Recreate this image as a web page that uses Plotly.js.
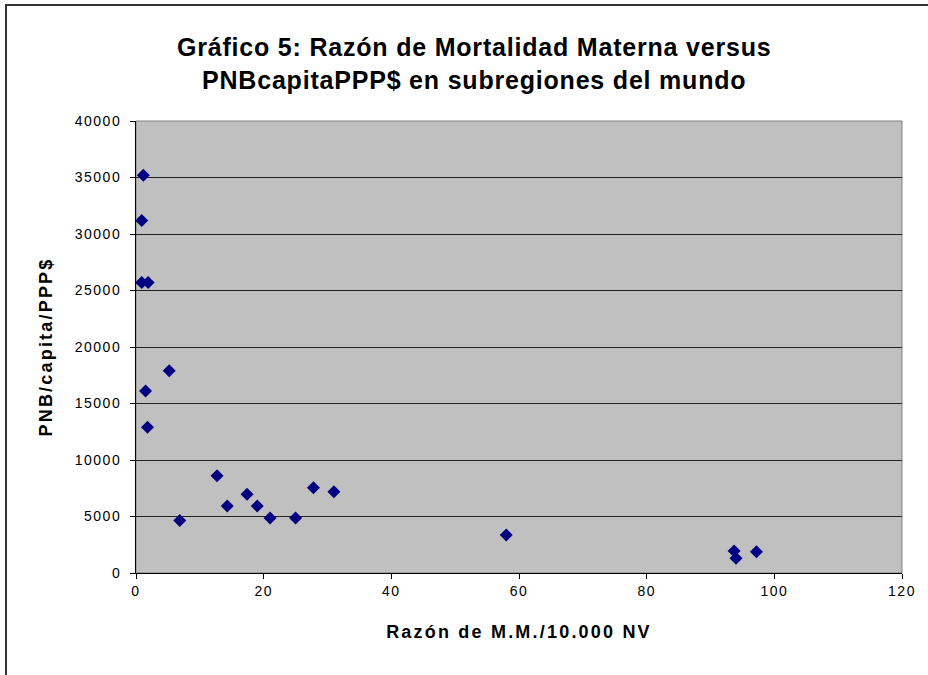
<!DOCTYPE html>
<html>
<head>
<meta charset="utf-8">
<script src="https://cdn.plot.ly/plotly-3.0.1.min.js"></script>
<style>
  html, body { margin: 0; padding: 0; background: #ffffff; overflow: hidden; }
  #frame { position: absolute; left: 5px; top: 4px; width: 1000px; height: 1000px;
           border-left: 2px solid #333333; border-top: 2px solid #333333; pointer-events: none; z-index: 5; }
  #chart { position: absolute; left: 0; top: 0; width: 928px; height: 675px; }
  #chart .gtitle { letter-spacing: 0.8px; }
  #chart .xtitle, #chart .ytitle { letter-spacing: 2.2px; }
  #chart .xtick text, #chart .ytick text { letter-spacing: 1.5px; }
</style>
</head>
<body>
<div id="chart"></div>
<div id="frame"></div>
<script>
// Razón de M.M. por 10.000 nacidos vivos
var razonMM = [1.15, 0.9, 0.9, 1.9, 5.2, 1.5, 1.8,
               6.85, 12.7, 14.3, 17.4, 19.0, 21.0, 25.0, 27.8, 31.0,
               58.0, 93.7, 94.0, 97.2];
// PNB per cápita PPP$
var pnbCapita = [35200, 31200, 25700, 25700, 17900, 16100, 12900,
                 4640, 8600, 5930, 6960, 5930, 4860, 4860, 7540, 7180,
                 3370, 1950, 1300, 1890];

var xTickVals = [0, 20, 40, 60, 80, 100, 120];
var yTickVals = [0, 5000, 10000, 15000, 20000, 25000, 30000, 35000, 40000];

var titleText = 'Gráfico 5: Razón de Mortalidad Materna versus<br>PNBcapitaPPP$ en subregiones del mundo';

var trace = {
  x: razonMM,
  y: pnbCapita,
  type: 'scatter',
  mode: 'markers',
  marker: { symbol: 'diamond', size: 10, color: '#000080', line: { width: 0 } },
  hoverinfo: 'x+y'
};

var layout = {
  width: 928,
  height: 675,
  margin: { l: 136, r: 26, t: 121, b: 102, pad: 0 },
  paper_bgcolor: '#ffffff',
  plot_bgcolor: '#c0c0c0',
  font: { family: 'Liberation Sans, Arial, sans-serif', color: '#000000', size: 14 },
  showlegend: false,
  title: {
    text: titleText,
    font: { family: 'Liberation Sans, Arial, sans-serif', size: 25, color: '#000000', weight: 'bold' },
    xref: 'container', x: 0.511, xanchor: 'center',
    yref: 'container', y: 0.917, yanchor: 'middle'
  },
  xaxis: {
    range: [0, 120],
    tickvals: xTickVals,
    ticktext: xTickVals.map(String),
    showgrid: false,
    zeroline: false,
    showline: true, linecolor: '#000000', linewidth: 1,
    ticks: 'outside', ticklen: 5, tickcolor: '#000000', tickwidth: 1,
    tickfont: { size: 14 },
    title: { text: 'Razón de M.M./10.000 NV', font: { size: 18, weight: 'bold' }, standoff: 27 }
  },
  yaxis: {
    range: [0, 40000],
    tickvals: yTickVals,
    ticktext: yTickVals.map(String),
    showgrid: true, gridcolor: '#222222', gridwidth: 1,
    zeroline: false,
    showline: true, linecolor: '#000000', linewidth: 1,
    ticks: 'outside', ticklen: 5, tickcolor: '#000000', tickwidth: 1,
    ticklabelstandoff: 6,
    tickfont: { size: 14 },
    title: { text: 'PNB/capita/PPP$', font: { size: 18, weight: 'bold' }, standoff: 24 }
  },
  shapes: [{
    type: 'rect', xref: 'paper', yref: 'paper', x0: 0, x1: 1, y0: 0, y1: 1,
    line: { color: '#808080', width: 1 }, layer: 'below'
  }]
};

Plotly.newPlot('chart', [trace], layout, { displayModeBar: false, staticPlot: true });
</script>
</body>
</html>
